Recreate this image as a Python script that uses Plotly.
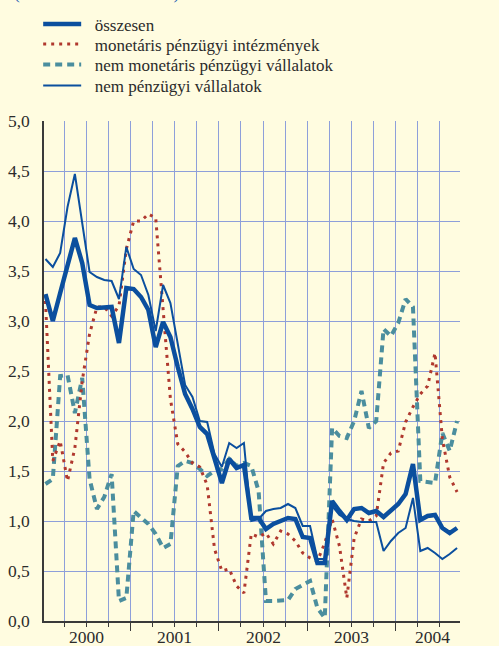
import numpy as np
import plotly.graph_objects as go

# Monthly data, Jan 2000 - Sep 2004 (annual growth rate, %)
osszesen = [3.27, 3.00, 3.28, 3.56, 3.83, 3.58, 3.16, 3.13, 3.14, 3.14,
            2.78, 3.33, 3.32, 3.24, 3.11, 2.74, 2.99, 2.84, 2.54, 2.27,
            2.12, 1.94, 1.87, 1.64, 1.38, 1.62, 1.53, 1.56, 1.03, 1.03,
            0.92, 0.97, 1.00, 1.03, 1.02, 0.84, 0.83, 0.58, 0.58, 1.20,
            1.10, 1.01, 1.12, 1.13, 1.08, 1.10, 1.04, 1.10, 1.17, 1.27,
            1.57, 1.01, 1.05, 1.06, 0.93, 0.88, 0.93]

monetaris = [3.20, 1.60, 1.80, 1.40, 1.73, 2.40, 2.87, 3.14, 3.14, 3.05,
             3.15, 3.72, 4.00, 4.00, 4.07, 4.03, 3.12, 2.22, 1.77, 1.69,
             1.58, 1.54, 1.36, 0.72, 0.50, 0.52, 0.35, 0.28, 0.87, 0.84,
             0.88, 0.77, 0.90, 0.87, 0.80, 0.68, 0.63, 0.60, 0.78, 1.02,
             0.75, 0.23, 0.83, 1.02, 1.00, 1.05, 1.58, 1.68, 1.70, 1.99,
             2.14, 2.27, 2.35, 2.68, 1.82, 1.44, 1.29]

nem_monetaris = [1.37, 1.42, 2.45, 2.46, 2.08, 2.43, 1.42, 1.12, 1.24, 1.47,
                 0.20, 0.23, 1.10, 1.03, 0.97, 0.87, 0.73, 0.77, 1.55, 1.60,
                 1.58, 1.52, 1.45, 1.50, 1.52, 1.62, 1.55, 1.58, 1.55, 1.30,
                 0.20, 0.20, 0.20, 0.21, 0.32, 0.36, 0.40, 0.13, 0.03, 1.93,
                 1.85, 1.83, 2.00, 2.30, 1.93, 2.00, 2.92, 2.85, 2.98, 3.22,
                 3.14, 1.40, 1.39, 1.38, 1.88, 1.70, 2.00]

nem_penzugyi = [3.62, 3.54, 3.68, 4.14, 4.47, 3.97, 3.49, 3.44, 3.41, 3.40,
                3.22, 3.74, 3.52, 3.46, 3.26, 2.90, 3.36, 3.18, 2.77, 2.36,
                2.24, 2.00, 1.99, 1.67, 1.54, 1.78, 1.73, 1.78, 1.00, 1.02,
                1.10, 1.12, 1.13, 1.17, 1.13, 0.95, 0.95, 0.62, 0.62, 1.15,
                1.06, 1.02, 1.00, 0.99, 0.99, 0.99, 0.70, 0.80, 0.88, 0.93,
                1.23, 0.70, 0.73, 0.68, 0.62, 0.67, 0.73]

series_names = ["összesen", "monetáris pénzügyi intézmények",
                "nem monetáris pénzügyi vállalatok", "nem pénzügyi vállalatok"]
years = ["2000", "2001", "2002", "2003", "2004"]
year_label_pos = [6, 18, 30, 42, 53]          # months since Jan 2000
y_ticks = [0, 0.5, 1, 1.5, 2, 2.5, 3, 3.5, 4, 4.5, 5]
y_ticktext = [f"{v:.1f}".replace(".", ",") for v in y_ticks]

# x position: months since Jan 2000 (point placed inside its month)
months = np.arange(len(osszesen)) + 0.4

BG = "#FFFCE0"
GRID = "#8E9FDA"
AXIS = "#3a3a3a"
TXT = "#2b2b2b"
BLUE = "#0B4F9E"
RED = "#B0382E"
TEAL = "#4B8E9E"
FONT = "Liberation Serif, 'Times New Roman', 'DejaVu Serif', serif"
SP = "\u2002"   # en space between legend symbol and label

styles = {
    "összesen": dict(color=BLUE, width=4.5),
    "monetáris pénzügyi intézmények": dict(color=RED, width=3, dash="3px,5px"),
    "nem monetáris pénzügyi vállalatok": dict(color=TEAL, width=4, dash="7px,5px"),
    "nem pénzügyi vállalatok": dict(color=BLUE, width=2),
}
values = {
    "összesen": osszesen,
    "monetáris pénzügyi intézmények": monetaris,
    "nem monetáris pénzügyi vállalatok": nem_monetaris,
    "nem pénzügyi vállalatok": nem_penzugyi,
}
legend_ids = {name: ("legend" if k == 0 else f"legend{k + 1}")
              for k, name in enumerate(series_names)}

fig = go.Figure()
# drawing order: dashed, dotted, thin, thick on top
for name in [series_names[2], series_names[1], series_names[3], series_names[0]]:
    fig.add_trace(go.Scatter(x=months, y=values[name], mode="lines",
                             name=SP + name, legend=legend_ids[name],
                             line=styles[name]))

for yr, pos in zip(years, year_label_pos):
    fig.add_annotation(x=pos, y=-0.032, xref="x", yref="paper", text=yr,
                       showarrow=False, yanchor="middle", xanchor="center",
                       font=dict(family=FONT, size=17.5, color=TXT))

fig.add_annotation(x=-0.077, y=1.256, xref="paper", yref="paper",
                   text="(éves növekedési ütem)", showarrow=False,
                   xanchor="left", yanchor="middle",
                   font=dict(family=FONT, size=17.5, color="#1f63b5"))

legend_rows_y = [1.193, 1.153, 1.112, 1.070]   # row centres (paper)
legend_layout = {}
for k, name in enumerate(series_names):
    legend_layout[legend_ids[name]] = dict(
        x=-0.014, y=legend_rows_y[k], xanchor="left", yanchor="middle",
        bgcolor="rgba(0,0,0,0)", itemwidth=38,
        font=dict(family=FONT, size=17, color=TXT))

fig.update_layout(
    width=499, height=646,
    margin=dict(l=44, r=39, t=121, b=25, autoexpand=False),
    paper_bgcolor=BG, plot_bgcolor=BG,
    font=dict(family=FONT, size=17.5, color=TXT),
    showlegend=True,
    xaxis=dict(range=[0.2, 56.8], tickvals=[12, 24, 36, 48],
               ticks="outside", ticklen=8, tickcolor=AXIS, tickwidth=1,
               showticklabels=False, showgrid=True, gridcolor=GRID, gridwidth=1,
               minor=dict(tick0=0, dtick=3, ticks="outside", ticklen=4,
                          tickcolor=AXIS, showgrid=True, gridcolor=GRID, gridwidth=1),
               showline=True, linecolor=AXIS, linewidth=1.5, zeroline=False,
               fixedrange=True),
    yaxis=dict(range=[0, 5], tickvals=y_ticks, ticktext=y_ticktext,
               showgrid=True, gridcolor=GRID, gridwidth=1, zeroline=False,
               showline=True, linecolor=AXIS, linewidth=1.5, ticks="",
               ticklabelstandoff=9, tickfont=dict(family=FONT, size=17.5)),
    yaxis2=dict(range=[0, 5], tickvals=y_ticks, ticktext=y_ticktext,
                overlaying="y", side="right", showgrid=False, zeroline=False,
                showline=True, linecolor=AXIS, linewidth=1.5, ticks="",
                ticklabelstandoff=14, tickfont=dict(family=FONT, size=17.5)),
    **legend_layout,
)

fig.write_html(
    "out.html",
    config={"displayModeBar": False},
    post_script="document.documentElement.style.margin='0';"
                "document.body.style.margin='0';"
                "document.body.style.background='" + BG + "';",
)
